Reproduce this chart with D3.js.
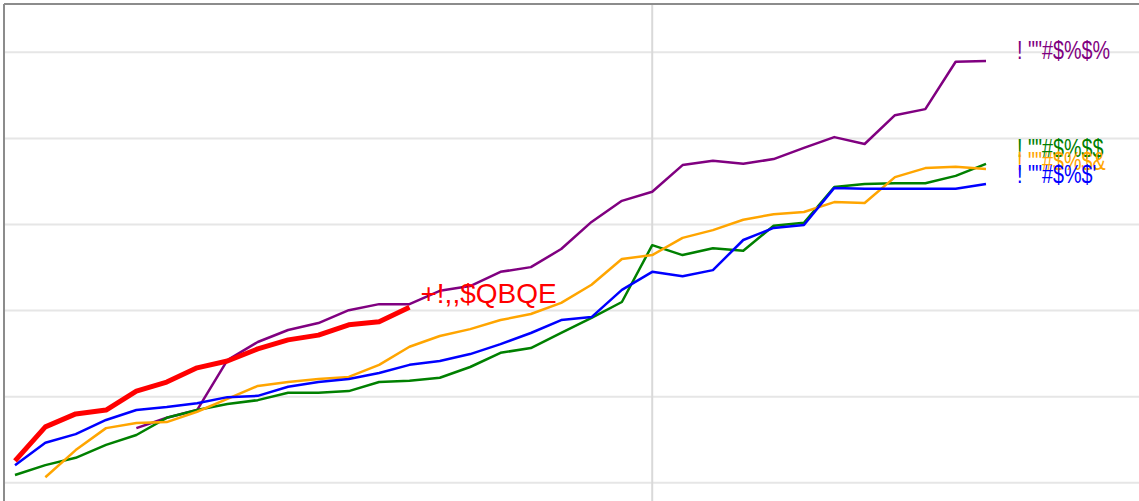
<html>
<head>
<script src="https://d3js.org/d3.v7.min.js"></script>
<style>
body { margin: 0; background-color: #ffffff; }
.grid line { stroke: #e6e6e6; stroke-width: 2px; }
.frame { stroke: #8c8c8c; stroke-width: 2px; }
.lbl { font-family: "Liberation Sans", Arial, sans-serif; font-size: 26px; }
</style>
</head>
<body>
<script>

// x positions are just the step index 0..32
var steps = d3.range(33);
var yTicks = [0, 20, 40, 60, 80, 100];
var markerStep = 21;

var names = ['! ""#$%$%', '! ""#$%$$', '! ""#$%$&', '! ""#$%$\'', '+!,,$QBQE'];
var colors = ['purple', 'green', 'orange', 'blue', 'red'];

var purpleVals = [null, null, null, null, 12.7, 15.1, 16.9, 28.5, 32.7, 35.5, 37.1, 40.1, 41.5, 41.5, 44.6, 45.7, 49.0, 50.1, 54.3, 60.6, 65.5, 67.6, 73.8, 74.8, 74.1, 75.2, 77.8, 80.3, 78.7, 85.4, 86.8, 97.8, 98.0];
var greenVals = [1.8, 4.1, 5.8, 8.8, 11.1, 15.1, 16.9, 18.3, 19.2, 20.9, 20.9, 21.3, 23.4, 23.7, 24.4, 26.9, 30.2, 31.3, 34.8, 38.3, 42.0, 55.2, 52.9, 54.5, 53.9, 59.7, 60.4, 68.7, 69.4, 69.6, 69.6, 71.3, 74.1];
var orangeVals = [null, 1.3, 7.6, 12.7, 13.9, 14.1, 16.5, 19.5, 22.5, 23.4, 24.1, 24.6, 27.4, 31.6, 34.1, 35.7, 37.8, 39.2, 41.8, 46.0, 52.0, 52.9, 56.9, 58.7, 61.1, 62.4, 62.9, 65.2, 65.0, 71.0, 73.1, 73.4, 72.9];
var blueVals = [4.1, 9.3, 11.3, 14.6, 16.9, 17.6, 18.5, 19.9, 20.2, 22.3, 23.4, 24.1, 25.5, 27.4, 28.3, 29.9, 32.2, 34.8, 37.8, 38.5, 44.8, 49.0, 48.0, 49.4, 56.4, 59.2, 59.9, 68.5, 68.3, 68.3, 68.3, 68.3, 69.4];
var redVals = [5.1, 13.0, 16.0, 16.9, 21.3, 23.4, 26.7, 28.3, 31.1, 33.2, 34.3, 36.7, 37.4, 40.8];

var width = 1139, height = 501;

var x = d3.scaleLinear().domain([0, 32]).range([15, 986]);
var y = d3.scaleLinear().domain([0, 100]).range([482.8, 52.3]);

var svg = d3.select('body').append('svg')
    .attr('width', width)
    .attr('height', height);

// horizontal grid
svg.append('g')
    .attr('class', 'grid')
    .selectAll('line')
    .data(yTicks)
    .enter().append('line')
    .attr('x1', 5)
    .attr('x2', width)
    .attr('y1', function(d) { return y(d); })
    .attr('y2', function(d) { return y(d); });

// vertical marker
svg.append('line')
    .attr('x1', x(markerStep))
    .attr('x2', x(markerStep))
    .attr('y1', 5)
    .attr('y2', height)
    .style('stroke', '#d9d9d9')
    .style('stroke-width', '2px');

// frame top + left
svg.append('line').attr('class', 'frame')
    .attr('x1', 4).attr('x2', width).attr('y1', 4).attr('y2', 4);
svg.append('line').attr('class', 'frame')
    .attr('x1', 4).attr('x2', 4).attr('y1', 4).attr('y2', height);

var series = [purpleVals, greenVals, orangeVals, blueVals, redVals].map(function(v, i) {
  return { name: names[i], color: colors[i], values: v, thick: i == 4 };
});

var line = d3.line()
    .defined(function(d) { return d != null; })
    .x(function(d, i) { return x(steps[i]); })
    .y(function(d) { return y(d); });

svg.selectAll('.series')
    .data(series)
    .enter().append('path')
    .attr('class', 'series')
    .attr('d', function(d) { return line(d.values); })
    .style('fill', 'none')
    .style('stroke', function(d) { return d.color; })
    .style('stroke-width', function(d) { return d.thick ? 5 : 2.5; })
    .style('stroke-linejoin', 'round');

// end labels
series.forEach(function(s) {
  var last = s.values.length - 1;
  s.lx = x(steps[last]);
  s.ly = y(s.values[last]);
});

// push right side labels apart a bit
var right = series.filter(function(s) { return !s.thick; });
for (var k = 0; k < 50; k++) {
  right.sort(function(a, b) { return a.ly - b.ly; });
  for (var j = 1; j < right.length; j++) {
    var gap = right[j].ly - right[j - 1].ly;
    if (gap < 13) {
      right[j].ly += (13 - gap) / 2;
      right[j - 1].ly -= (13 - gap) / 2;
    }
  }
}

// narrow look for the right labels
svg.selectAll('.lbl')
    .data(series)
    .enter().append('text')
    .attr('class', 'lbl')
    .attr('transform', function(d) {
      if (d.thick) return 'translate(' + (d.lx + 11) + ',' + (d.ly - 4) + ')';
      return 'translate(' + (d.lx + 31) + ',' + (d.ly - 2) + ') scale(0.76,1)';
    })
    .style('font-size', function(d) { return d.thick ? '28px' : null; })
    .style('fill', function(d) { return d.color; })
    .text(function(d) { return d.name; });

</script>
</body>
</html>
